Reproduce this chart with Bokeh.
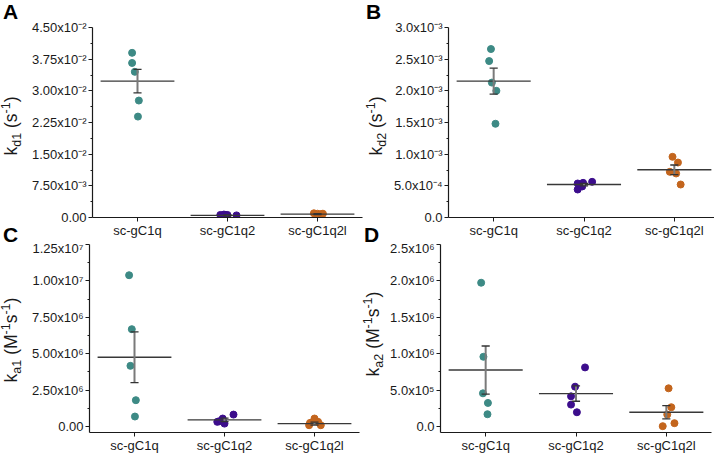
from bokeh.plotting import figure
from bokeh.models import FixedTicker, Range1d, Div
from bokeh.layouts import column, row
from bokeh.embed import file_html
from bokeh.resources import INLINE

categories = ["sc-gC1q", "sc-gC1q2", "sc-gC1q2l"]
cat_pos = [1, 2, 3]
colors = ["#3d8a85", "#3c0d8c", "#c3651d"]

# Panel A: kd1 (s^-1)
kd1_q1 = [0.0390, 0.0366, 0.0345, 0.0277, 0.0239]
kd1_q2 = [0.0006, 0.0007, 0.0006, 0.0005, 0.0006]
kd1_q2l = [0.0010, 0.0009, 0.0008, 0.0007, 0.0009]
kd1_mean = [0.0323, 0.0005, 0.0008]
kd1_sem = [0.0028, 0.0001, 0.0001]
kd1_offsets = [[-0.06, -0.06, -0.03, 0.015, 0.005], [-0.08, -0.04, 0.0, 0.10, -0.02], [-0.04, 0.0, 0.04, -0.02, 0.06]]
kd1_ticks = [0, 0.0075, 0.015, 0.0225, 0.03, 0.0375, 0.045]
kd1_tick_labels = ["0.00", "7.50x10⁻³", "1.50x10⁻²", "2.25x10⁻²", "3.00x10⁻²", "3.75x10⁻²", "4.50x10⁻²"]

# Panel B: kd2 (s^-1)
kd2_q1 = [2.66e-3, 2.47e-3, 2.13e-3, 2.00e-3, 1.48e-3]
kd2_q2 = [0.537e-3, 0.547e-3, 0.563e-3, 0.442e-3, 0.49e-3]
kd2_q2l = [0.958e-3, 0.868e-3, 0.721e-3, 0.695e-3, 0.521e-3]
kd2_mean = [2.153e-3, 0.52e-3, 0.753e-3]
kd2_sem = [0.205e-3, 0.02e-3, 0.076e-3]
kd2_offsets = [[-0.03, -0.05, -0.02, 0.03, 0.02], [-0.07, -0.01, 0.09, -0.07, -0.02], [-0.02, 0.04, -0.05, 0.02, 0.07]]
kd2_ticks = [0, 5e-4, 1e-3, 1.5e-3, 2e-3, 2.5e-3, 3e-3]
kd2_tick_labels = ["0.0", "5.0x10⁻⁴", "1.0x10⁻³", "1.5x10⁻³", "2.0x10⁻³", "2.5x10⁻³", "3.0x10⁻³"]

# Panel C: ka1 (M^-1 s^-1)
ka1_q1 = [10.39e6, 6.685e6, 4.167e6, 1.809e6, 0.687e6]
ka1_q2 = [0.82e6, 0.55e6, 0.36e6, 0.32e6, 0.20e6]
ka1_q2l = [0.55e6, 0.32e6, 0.25e6, 0.09e6, 0.09e6]
ka1_mean = [4.76e6, 0.46e6, 0.20e6]
ka1_sem = [1.74e6, 0.12e6, 0.10e6]
ka1_offsets = [[-0.06, -0.03, -0.045, 0.015, 0.005], [0.10, -0.02, -0.06, -0.08, 0.0], [0.0, 0.04, -0.05, -0.06, 0.07]]
ka1_ticks = [0, 2.5e6, 5e6, 7.5e6, 1e7, 1.25e7]
ka1_tick_labels = ["0.00", "2.50x10⁶", "5.00x10⁶", "7.50x10⁶", "1.00x10⁷", "1.25x10⁷"]

# Panel D: ka2 (M^-1 s^-1)
ka2_q1 = [1.975e6, 0.958e6, 0.456e6, 0.324e6, 0.169e6]
ka2_q2 = [0.812e6, 0.547e6, 0.415e6, 0.301e6, 0.196e6]
ka2_q2l = [0.525e6, 0.265e6, 0.164e6, 0.046e6, 0.005e6]
ka2_mean = [0.776e6, 0.452e6, 0.196e6]
ka2_sem = [0.33e6, 0.105e6, 0.09e6]
ka2_offsets = [[-0.05, -0.025, -0.03, 0.025, 0.02], [0.10, -0.01, -0.055, -0.055, 0.01], [0.025, 0.055, 0.01, 0.09, -0.04]]
ka2_ticks = [0, 5e5, 1e6, 1.5e6, 2e6, 2.5e6]
ka2_tick_labels = ["0.0", "5.0x10⁵", "1.0x10⁶", "1.5x10⁶", "2.0x10⁶", "2.5x10⁶"]

# y-axis titles (HTML, sub/superscripts) and panel letters
titles = {
    "A": "k<sub>d1</sub> (s<sup>-1</sup>)",
    "B": "k<sub>d2</sub> (s<sup>-1</sup>)",
    "C": "k<sub>a1</sub> (M<sup>-1</sup>s<sup>-1</sup>)",
    "D": "k<sub>a2</sub> (M<sup>-1</sup>s<sup>-1</sup>)",
}

FONT = "Liberation Sans"
INK = "#1a1a1a"


def style_axis(ax):
    ax.axis_line_color = INK
    ax.axis_line_width = 1.2
    ax.major_tick_line_color = INK
    ax.minor_tick_line_color = INK
    ax.major_tick_in = 0
    ax.major_tick_out = 4
    ax.minor_tick_in = 0
    ax.minor_tick_out = 2
    ax.major_label_text_font = FONT
    ax.major_label_text_font_size = "13px"
    ax.major_label_text_color = INK


def make_panel(series, offsets, means, sems, y_lo, y_hi, ticks, tick_labels,
               frame_w, frame_h, border_left, border_right, border_top):
    p = figure(output_backend="svg", toolbar_location=None,
               frame_width=frame_w, frame_height=frame_h,
               min_border_left=border_left, min_border_right=border_right,
               min_border_top=border_top, min_border_bottom=0,
               x_range=Range1d(0.5, 3.5), y_range=Range1d(y_lo, y_hi))
    p.outline_line_color = None
    p.grid.visible = False

    minor = [(a + b) / 2 for a, b in zip(ticks[:-1], ticks[1:])]
    p.yaxis.ticker = FixedTicker(ticks=ticks, minor_ticks=minor)
    p.yaxis.major_label_overrides = {t: l for t, l in zip(ticks, tick_labels)}
    p.xaxis.ticker = FixedTicker(ticks=cat_pos, minor_ticks=[])
    p.xaxis.major_label_overrides = {c: n for c, n in zip(cat_pos, categories)}
    style_axis(p.xaxis[0])
    style_axis(p.yaxis[0])
    p.yaxis.major_label_standoff = 2
    p.xaxis.major_label_standoff = 1

    for i, (vals, offs) in enumerate(zip(series, offsets)):
        xs = [cat_pos[i] + o for o in offs]
        p.scatter(xs, vals, size=7, color=colors[i], line_color=colors[i])

    # mean lines
    p.segment(x0=[c - 0.41 for c in cat_pos], x1=[c + 0.41 for c in cat_pos],
              y0=means, y1=means, line_color="#383838", line_width=1.4)
    # error bars (mean +/- SEM)
    lo = [m - s for m, s in zip(means, sems)]
    hi = [m + s for m, s in zip(means, sems)]
    p.segment(x0=cat_pos, x1=cat_pos, y0=lo, y1=hi, line_color="#7a7a7a", line_width=2)
    for yy in (lo, hi):
        p.segment(x0=[c - 0.045 for c in cat_pos], x1=[c + 0.045 for c in cat_pos],
                  y0=yy, y1=yy, line_color="#333333", line_width=1.3)
    return p


def strip(width, height, title_html, cx, cy, letters):
    """HTML strip left of a panel: rotated y-axis title plus panel letter(s).
    letters: list of (letter, left, top) in pixels inside the strip."""
    parts = [
        f'<div style="position:absolute;left:{cx}px;top:{cy}px;white-space:nowrap;'
        f'font-family:\'{FONT}\';font-size:17.5px;line-height:1;color:{INK};'
        f'transform:translate(-50%,-50%) rotate(-90deg);">'
        f'{title_html.replace("<sub>", "<sub style=\"font-size:12.5px\">").replace("<sup>", "<sup style=\"font-size:12.5px\">")}'
        f'</div>'
    ]
    for let, lx, ly in letters:
        parts.append(
            f'<div style="position:absolute;left:{lx}px;top:{ly}px;font-family:\'{FONT}\';'
            f'font-weight:bold;font-size:21px;line-height:1;color:#000;">{let}</div>')
    html = (f'<div style="position:relative;width:{width}px;height:{height}px;overflow:visible;">'
            + "".join(parts) + "</div>")
    return Div(text=html, width=width, height=height, margin=(0, 0, 0, 0),
               styles={"overflow": "visible"})


pA = make_panel([kd1_q1, kd1_q2, kd1_q2l], kd1_offsets, kd1_mean, kd1_sem, 0, 0.045,
                kd1_ticks, kd1_tick_labels, 270, 190, 58, 2, 27)
pB = make_panel([kd2_q1, kd2_q2, kd2_q2l], kd2_offsets, kd2_mean, kd2_sem, 0, 0.003,
                kd2_ticks, kd2_tick_labels, 271, 190, 53, 2, 27)
pC = make_panel([ka1_q1, ka1_q2, ka1_q2l], ka1_offsets, ka1_mean, ka1_sem, -0.41e6, 1.25e7,
                ka1_ticks, ka1_tick_labels, 270, 188, 58, 2, 4)
pD = make_panel([ka2_q1, ka2_q2, ka2_q2l], ka2_offsets, ka2_mean, ka2_sem, -0.082e6, 2.5e6,
                ka2_ticks, ka2_tick_labels, 271, 188, 53, 2, 4)

sA = strip(28, 236, titles["A"], 12, 126, [("A", 3, 1), ("C", 3, 224)])
sB = strip(26, 236, titles["B"], 12.5, 126, [("B", 2, 1), ("D", 0, 224)])
sC = strip(28, 214, titles["C"], 12, 100, [])
sD = strip(26, 214, titles["D"], 12.5, 94, [])

layout = column(row(sA, pA, sB, pB), row(sC, pC, sD, pD))
open("out.html", "w").write(file_html(layout, INLINE))
